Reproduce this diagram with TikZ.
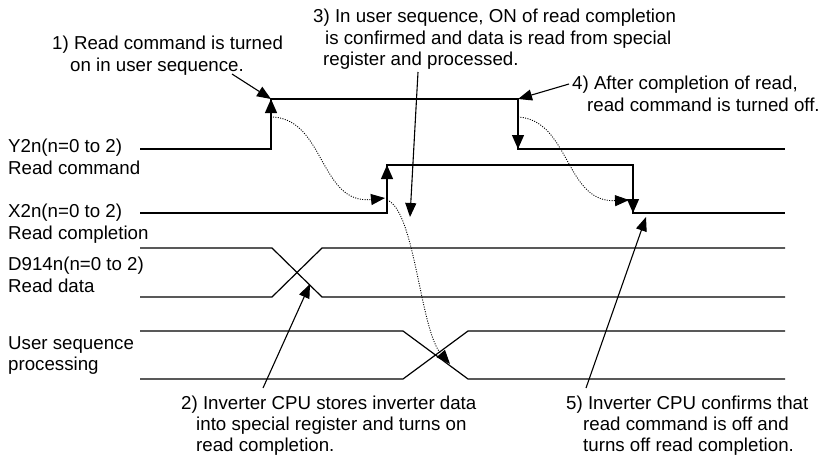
\documentclass[tikz,border=0pt]{standalone}
\usepackage{fontspec}
\setmainfont{Liberation Sans}
\usetikzlibrary{arrows.meta}
\begin{document}
\begin{tikzpicture}[x=1pt,y=-1pt,
  sig/.style={line width=1.2pt, line join=miter},
  edgearrow/.style={line width=1.2pt, -{Triangle[length=14pt,width=12pt]}},
  callout/.style={line width=1.1pt, -{Triangle[length=14pt,width=11pt]}},
  flow/.style={line width=0.9pt, dash pattern=on 1pt off 1.4pt, -{Triangle[length=14pt,width=11pt]}},
  lbl/.style={anchor=north west, inner sep=0pt, align=left, font=\fontsize{18.7}{21.5}\selectfont},
  lblb/.style={lbl, font=\fontsize{18.7}{21}\selectfont},
]
\useasboundingbox (0,0) rectangle (834,456);

% texts
\node[lbl] (t1) at (52,36) {1) Read command is turned\\\hspace*{18pt}on in user sequence.};
\node[lbl] (t3) at (313,9) {3) In user sequence, ON of read completion\\\hspace*{12pt}is confirmed and data is read from special\\\hspace*{10pt}register and processed.};
\node[lbl] (t4) at (572,76) {4) After completion of read,\\\hspace*{15pt}read command is turned off.};
\node[lblb] (t2) at (181,396) {2) Inverter CPU stores inverter data\\\hspace*{15pt}into special register and turns on\\\hspace*{15pt}read completion.};
\node[lblb] (t5) at (566,396) {5) Inverter CPU confirms that\\\hspace*{17pt}read command is off and\\\hspace*{17pt}turns off read completion.};

\node[lbl] (ly) at (8,139) {Y2n(n=0 to 2)\\Read command};
\node[lbl] (lx) at (8,204) {X2n(n=0 to 2)\\Read completion};
\node[lbl] (ld) at (8,257) {D914n(n=0 to 2)\\Read data};
\node[lbl] (lu) at (8,336) {User sequence\\processing};

% Y2n signal
\coordinate (y0) at (140,149);
\coordinate (yr) at (271,149);
\coordinate (yh) at (271,99);
\coordinate (yf) at (518,99);
\coordinate (yl) at (518,149);
\coordinate (ye) at (785,149);
\draw[sig] (y0) -- (yr) -- (yh) -- (yf) -- (yl) -- (ye);
\draw[edgearrow] (yr) -- (yh);
\draw[edgearrow] (yf) -- (yl);

% X2n signal
\coordinate (x0) at (140,213);
\coordinate (xr) at (387,213);
\coordinate (xh) at (387,165);
\coordinate (xf) at (633,165);
\coordinate (xl) at (633,213);
\coordinate (xe) at (785,213);
\draw[sig] (x0) -- (xr) -- (xh) -- (xf) -- (xl) -- (xe);
\draw[edgearrow] (xr) -- (xh);
\draw[edgearrow] (xf) -- (xl);

% D914n data
\coordinate (d0t) at (140,248);
\coordinate (d0b) at (140,297);
\coordinate (d1t) at (272,248);
\coordinate (d1b) at (272,297);
\coordinate (d2t) at (322,248);
\coordinate (d2b) at (322,297);
\coordinate (d3t) at (785,248);
\coordinate (d3b) at (785,297);
\draw[sig] (d0t) -- (d1t) -- (d2b) -- (d3b);
\draw[sig] (d0b) -- (d1b) -- (d2t) -- (d3t);

% User sequence processing
\coordinate (u0t) at (140,331);
\coordinate (u0b) at (140,379);
\coordinate (u1t) at (403,331);
\coordinate (u1b) at (403,379);
\coordinate (u2t) at (468,331);
\coordinate (u2b) at (468,379);
\coordinate (u3t) at (785,331);
\coordinate (u3b) at (785,379);
\draw[sig] (u0t) -- (u1t) -- (u2b) -- (u3b);
\draw[sig] (u0b) -- (u1b) -- (u2t) -- (u3t);

% dotted flows
\coordinate (f1s) at (273,117);
\coordinate (f1e) at (385,198);
\coordinate (f2s) at (387,200);
\coordinate (f2e) at (450,364);
\coordinate (f3s) at (518,117);
\coordinate (f3e) at (629,200);
\draw[flow] (f1s) .. controls (325,120) and (320,205) .. (f1e);
\draw[flow] (f2s) .. controls (415,210) and (420,330) .. (f2e);
\draw[flow] (f3s) .. controls (570,120) and (565,203) .. (f3e);

% callouts
\coordinate (c1) at (232,74);
\coordinate (c3) at (418,72);
\coordinate (c3e) at (410,217);
\coordinate (c4) at (569,84);
\coordinate (c2) at (263,388);
\coordinate (c2e) at (310,284);
\coordinate (c5) at (586,388);
\coordinate (c5e) at (646,217);
\draw[callout] (c1) -- (yh);
\draw[callout] (c3) -- (c3e);
\draw[callout] (c4) -- (yf);
\draw[callout] (c2) -- (c2e);
\draw[callout] (c5) -- (c5e);
\end{tikzpicture}
\end{document}
